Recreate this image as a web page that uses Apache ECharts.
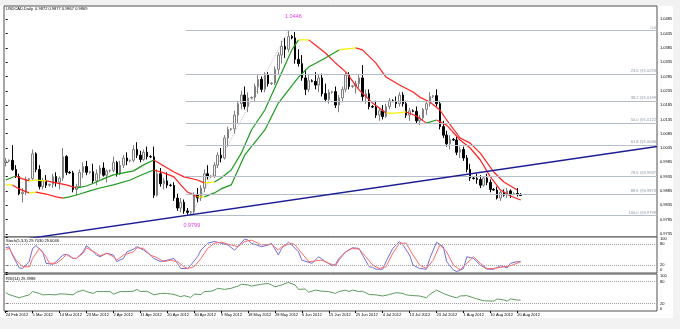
<!DOCTYPE html>
<html><head><meta charset="utf-8">
<script src="https://cdn.jsdelivr.net/npm/echarts@6/dist/echarts.min.js"></script>
<style>html,body{margin:0;padding:0;background:#f2f2f2;}#c{width:680px;height:329px;}</style>
</head><body><div id="c"></div>
<script>
// ---------- DATA ----------
const titleText = 'USDCAD,Daily  0.9872 0.9877 0.9867 0.9869';
const stochTitle = 'Stoch(5,3,3) 29.7030 29.6046';
const rsiTitle = 'RSI(14) 29.3988';
const lastPrice = 0.9869;
const priceTicks = [0.9735,0.9785,0.9835,0.9885,0.9935,0.9985,1.0035,1.0085,1.0135,1.0185,1.0235,1.0285,1.0335,1.0385,1.0435,1.0485];
const oscTicks = [0,20,80,100];
const months = ['Jan','Feb','Mar','Apr','May','Jun','Jul','Aug','Sep','Oct','Nov','Dec'];
// daily bars (Sunday bars included, Saturdays absent), first bar 24 Feb 2012
const categories = [];
(function(){ const d = new Date(Date.UTC(2012,1,24)); while (categories.length < 194) { if (d.getUTCDay() !== 6) categories.push(d.getUTCDate()+' '+months[d.getUTCMonth()]+' '+d.getUTCFullYear()); d.setUTCDate(d.getUTCDate()+1);} })();

// [open, high, low, close]
const ohlc = [
[0.9985,1.0000,0.9970,0.9990],[0.9990,0.9995,0.9985,0.9992],[0.9992,1.0045,0.9955,0.9960],[0.9960,0.9975,0.9930,0.9935],[0.9935,0.9945,0.9870,0.9875],[0.9875,0.9895,0.9845,0.9880],
[0.9880,0.9935,0.9870,0.9925],[0.9925,0.9930,0.9920,0.9928],[0.9928,1.0030,0.9920,1.0015],[1.0015,1.0020,0.9950,0.9960],[0.9960,0.9975,0.9890,0.9900],[0.9900,0.9930,0.9890,0.9920],
[0.9920,0.9940,0.9895,0.9905],[0.9905,0.9910,0.9900,0.9908],[0.9908,0.9945,0.9895,0.9935],[0.9935,0.9950,0.9900,0.9915],[0.9915,0.9935,0.9890,0.9930],[0.9930,1.0035,0.9920,1.0005],
[1.0005,1.0010,0.9940,0.9950],[0.9950,0.9955,0.9945,0.9948],[0.9948,0.9955,0.9880,0.9890],[0.9890,0.9910,0.9870,0.9900],[0.9900,0.9960,0.9895,0.9950],[0.9950,0.9985,0.9930,0.9970],
[0.9970,0.9990,0.9940,0.9950],[0.9950,0.9955,0.9945,0.9952],[0.9952,0.9980,0.9910,0.9920],[0.9920,0.9960,0.9905,0.9945],[0.9945,0.9975,0.9925,0.9965],[0.9965,0.9985,0.9935,0.9940],
[0.9940,0.9960,0.9915,0.9955],[0.9955,0.9960,0.9950,0.9957],[0.9957,1.0005,0.9950,0.9985],[0.9985,0.9990,0.9935,0.9945],[0.9945,0.9990,0.9940,0.9975],[0.9975,1.0010,0.9965,1.0000],
[1.0000,1.0020,0.9975,0.9990],[0.9990,0.9995,0.9985,0.9992],[0.9992,1.0045,0.9985,1.0030],[1.0030,1.0055,1.0000,1.0010],[1.0010,1.0025,0.9985,0.9995],[0.9995,1.0030,0.9990,1.0020],
[1.0020,1.0040,0.9995,1.0005],[1.0005,1.0010,1.0000,1.0004],[1.0004,1.0040,0.9860,0.9870],[0.9870,0.9960,0.9865,0.9945],[0.9945,0.9965,0.9900,0.9910],[0.9910,0.9930,0.9890,0.9920],
[0.9920,0.9950,0.9895,0.9905],[0.9905,0.9910,0.9900,0.9904],[0.9904,0.9915,0.9850,0.9860],[0.9860,0.9875,0.9815,0.9825],[0.9825,0.9860,0.9810,0.9845],[0.9845,0.9855,0.9805,0.9815],
[0.9815,0.9825,0.9802,0.9810],[0.9810,0.9815,0.9799,0.9812],[0.9812,0.9880,0.9805,0.9870],[0.9870,0.9895,0.9845,0.9860],[0.9860,0.9905,0.9850,0.9895],[0.9895,0.9960,0.9880,0.9945],
[0.9945,0.9975,0.9925,0.9935],[0.9935,0.9940,0.9930,0.9937],[0.9937,0.9985,0.9930,0.9975],[0.9975,1.0020,0.9965,1.0010],[1.0010,1.0035,0.9985,1.0000],[1.0000,1.0080,0.9995,1.0070],
[1.0070,1.0110,1.0040,1.0100],[1.0100,1.0105,1.0095,1.0102],[1.0102,1.0165,1.0085,1.0150],[1.0150,1.0200,1.0120,1.0190],[1.0190,1.0235,1.0170,1.0220],[1.0220,1.0250,1.0170,1.0180],
[1.0180,1.0230,1.0160,1.0210],[1.0210,1.0215,1.0205,1.0212],[1.0212,1.0260,1.0200,1.0250],[1.0250,1.0290,1.0225,1.0275],[1.0275,1.0285,1.0230,1.0240],[1.0240,1.0300,1.0230,1.0290],
[1.0290,1.0300,1.0250,1.0260],[1.0260,1.0265,1.0255,1.0262],[1.0262,1.0320,1.0255,1.0310],[1.0310,1.0370,1.0290,1.0360],[1.0360,1.0410,1.0330,1.0390],[1.0390,1.0420,1.0350,1.0380],
[1.0380,1.0446,1.0370,1.0425],[1.0425,1.0430,1.0415,1.0420],[1.0420,1.0440,1.0330,1.0345],[1.0345,1.0380,1.0320,1.0330],[1.0330,1.0360,1.0270,1.0280],[1.0280,1.0310,1.0220,1.0240],
[1.0240,1.0290,1.0230,1.0270],[1.0270,1.0275,1.0265,1.0268],[1.0268,1.0300,1.0240,1.0255],[1.0255,1.0290,1.0230,1.0280],[1.0280,1.0295,1.0215,1.0225],[1.0225,1.0260,1.0195,1.0205],
[1.0205,1.0240,1.0190,1.0230],[1.0230,1.0235,1.0225,1.0232],[1.0232,1.0250,1.0175,1.0185],[1.0185,1.0220,1.0160,1.0210],[1.0210,1.0250,1.0195,1.0240],[1.0240,1.0300,1.0230,1.0290],
[1.0290,1.0300,1.0240,1.0250],[1.0250,1.0255,1.0245,1.0252],[1.0252,1.0270,1.0225,1.0260],[1.0260,1.0290,1.0245,1.0280],[1.0280,1.0325,1.0200,1.0215],[1.0215,1.0240,1.0190,1.0225],
[1.0225,1.0240,1.0170,1.0180],[1.0180,1.0185,1.0175,1.0178],[1.0178,1.0200,1.0140,1.0150],[1.0150,1.0175,1.0130,1.0165],[1.0165,1.0185,1.0135,1.0145],[1.0145,1.0190,1.0140,1.0180],
[1.0180,1.0210,1.0170,1.0200],[1.0200,1.0205,1.0195,1.0198],[1.0198,1.0215,1.0175,1.0190],[1.0190,1.0230,1.0180,1.0220],[1.0220,1.0230,1.0180,1.0190],[1.0190,1.0200,1.0140,1.0150],
[1.0150,1.0175,1.0130,1.0165],[1.0165,1.0170,1.0160,1.0163],[1.0163,1.0180,1.0120,1.0130],[1.0130,1.0150,1.0115,1.0140],[1.0140,1.0175,1.0130,1.0170],[1.0170,1.0200,1.0150,1.0190],
[1.0190,1.0230,1.0180,1.0215],[1.0215,1.0220,1.0210,1.0218],[1.0218,1.0240,1.0180,1.0190],[1.0190,1.0200,1.0100,1.0110],[1.0110,1.0130,1.0070,1.0080],[1.0080,1.0095,1.0040,1.0050],
[1.0050,1.0080,1.0030,1.0065],[1.0065,1.0070,1.0060,1.0063],[1.0063,1.0075,1.0010,1.0020],[1.0020,1.0040,1.0000,1.0030],[1.0030,1.0040,0.9990,1.0000],[1.0000,1.0010,0.9950,0.9960],
[0.9960,0.9980,0.9920,0.9930],[0.9930,0.9935,0.9925,0.9928],[0.9928,0.9945,0.9910,0.9925],[0.9925,0.9940,0.9895,0.9905],[0.9905,0.9935,0.9900,0.9930],[0.9930,0.9945,0.9905,0.9915],
[0.9915,0.9925,0.9880,0.9890],[0.9890,0.9895,0.9885,0.9888],[0.9888,0.9900,0.9855,0.9860],[0.9860,0.9885,0.9850,0.9880],[0.9880,0.9890,0.9865,0.9870],[0.9870,0.9895,0.9860,0.9885],
[0.9885,0.9890,0.9860,0.9875],[0.9875,0.9880,0.9870,0.9876],[0.9876,0.9895,0.9865,0.9872],[0.9872,0.9877,0.9867,0.9869]
];

// moving averages: [bar index, price]
const maFast = [[0,0.9923],[3,0.9937],[5,0.9927],[7,0.9920],[9,0.9923],[12,0.9920],[15,0.9913],[18,0.9906],[21,0.9895],[24,0.9902],[27,0.9916],[29,0.9927],[32,0.9941],[35,0.9948],[38,0.9955],[41,0.9976],[44,0.9993],[46,0.9979],[48,0.9965],[50,0.9951],[53,0.9934],[57,0.9923],[59,0.9913],[62,0.9916],[64,0.9930],[67,0.9958],[70,1.0017],[73,1.0098],[77,1.0168],[81,1.0273],[85,1.0378],[87,1.0413],[90,1.0413],[92,1.0395],[95,1.0367],[98,1.0332],[101,1.0301],[105,1.0238],[109,1.0192],[113,1.0157],[116,1.0157],[119,1.0161],[122,1.0147],[125,1.0122],[128,1.0133],[131,1.0115],[135,1.0063],[138,1.0035],[141,0.9993],[144,0.9934],[147,0.9888],[150,0.9867],[153,0.9853]];
const maSlow = [[0,0.9906],[2,0.9906],[4,0.9892],[7,0.9878],[9,0.9881],[12,0.9874],[15,0.9864],[17,0.9860],[19,0.9864],[22,0.9874],[25,0.9885],[28,0.9895],[32,0.9906],[37,0.9923],[41,0.9944],[44,0.9958],[47,0.9948],[50,0.9934],[52,0.9906],[54,0.9881],[57,0.9864],[59,0.9864],[62,0.9878],[64,0.9892],[67,0.9906],[71,1.0010],[77,1.0098],[81,1.0192],[87,1.0283],[90,1.0318],[95,1.0350],[99,1.0378],[104,1.0385],[106,1.0378],[110,1.0332],[113,1.0283],[117,1.0255],[121,1.0231],[123,1.0213],[126,1.0196],[129,1.0168],[131,1.0133],[135,1.0070],[138,1.0052],[141,1.0017],[145,0.9951],[148,0.9916],[152,0.9888]];

const stochK = [[0,70],[1,73],[2,49],[4,12],[5,10],[7,30],[8,68],[9,76],[11,58],[12,25],[14,22],[15,30],[17,49],[18,51],[19,47],[20,39],[21,39],[23,58],[24,76],[25,68],[27,49],[28,44],[30,54],[32,49],[33,30],[35,39],[36,58],[38,66],[39,73],[41,63],[43,49],[44,39],[46,30],[48,34],[50,39],[51,25],[52,10],[54,10],[55,20],[57,44],[58,63],[60,83],[62,88],[64,83],[66,78],[68,63],[69,73],[71,95],[72,92],[73,83],[76,73],[78,78],[79,83],[81,49],[82,68],[84,86],[85,78],[87,58],[88,34],[91,25],[93,44],[95,30],[97,18],[98,22],[99,39],[101,58],[103,70],[105,68],[106,49],[108,15],[109,13],[110,8],[112,8],[113,30],[115,68],[117,88],[118,78],[120,49],[121,20],[123,10],[125,8],[126,39],[128,86],[130,73],[131,30],[133,6],[134,1],[136,10],[137,44],[139,39],[141,20],[143,8],[145,8],[147,18],[149,12],[150,25],[152,30],[153,29.7]];
const stochD = [[0,64],[1,69],[3,35],[5,15],[7,15],[8,39],[10,68],[12,44],[13,25],[15,25],[17,39],[18,51],[20,39],[21,39],[23,54],[24,70],[27,54],[28,47],[30,54],[32,44],[33,34],[35,49],[38,58],[39,70],[41,68],[43,49],[45,41],[47,30],[49,34],[51,30],[53,15],[54,10],[56,15],[58,39],[60,68],[62,83],[64,86],[67,78],[69,73],[71,88],[73,92],[75,83],[76,78],[79,80],[81,63],[82,73],[85,83],[86,78],[88,54],[90,30],[92,32],[94,34],[96,25],[98,18],[99,34],[101,58],[103,68],[105,66],[107,44],[109,20],[111,10],[113,15],[115,54],[117,83],[119,83],[121,49],[123,20],[125,10],[127,34],[129,78],[131,58],[133,20],[135,6],[137,25],[139,44],[141,25],[143,10],[145,10],[148,15],[150,18],[153,29.6]];
const rsi = [[0,50],[1,45],[4,36],[5,39],[7,44],[8,53],[10,48],[11,44],[13,45],[15,44],[16,47],[18,46],[20,44],[21,51],[23,57],[24,53],[26,48],[27,53],[29,53],[31,53],[32,46],[34,53],[36,53],[38,54],[39,59],[40,53],[42,54],[44,44],[46,48],[48,48],[50,45],[52,39],[53,42],[55,37],[56,46],[58,45],[59,53],[61,54],[62,57],[63,62],[65,59],[67,62],[69,68],[70,73],[72,71],[73,68],[76,73],[78,75],[79,71],[80,66],[82,71],[84,78],[86,71],[87,59],[89,60],[90,51],[92,57],[94,54],[96,53],[98,48],[99,53],[101,57],[102,53],[103,57],[105,53],[106,54],[108,45],[110,44],[112,41],[114,45],[116,50],[118,48],[119,44],[121,42],[123,41],[125,36],[126,45],[128,57],[130,48],[132,41],[134,36],[135,41],[137,42],[139,36],[140,33],[142,28],[145,27],[146,33],[148,30],[149,27],[150,33],[152,30],[153,29.4]];

const fibLevels = ['0.0','23.6','38.2','50.0','61.8','78.6','88.6','100.0'];
const fibPrices = [1.0446,1.0293,1.0199,1.0122,1.0046,0.9937,0.9873,0.9799];
const fibStart = 53.5;
const trendLine = [[0,0.97067],[193.5,1.00403]];
const swingLow = [55,0.9799];
const swingHigh = [84,1.0446];

// ---------- CHART ----------
const FF = 'Liberation Sans, Arial, sans-serif';
const XMAX = 193.5, XMIN = -0.5;
const chart = echarts.init(document.getElementById('c'), null, {renderer:'canvas'});

function slopeColor(a,b){ const s=(b[1]-a[1])/(b[0]-a[0]); return s>0.00018?'#1e9a1e':(s<-0.00018?'#ff2020':'#f2f200'); }
function maSeries(pts){
  const runs=[]; let cur=null;
  for(let k=1;k<pts.length;k++){ const c=slopeColor(pts[k-1],pts[k]); if(!cur||cur.color!==c){cur={color:c,data:[pts[k-1]]};runs.push(cur);} cur.data.push(pts[k]); }
  return runs.map(r=>({type:'line',xAxisIndex:1,yAxisIndex:0,data:r.data,symbol:'none',silent:true,animation:false,z:4,lineStyle:{color:r.color,width:1.2}}));
}
const showIdx = (i)=> i%8===0 && i<=152;

const series = [
  {type:'candlestick',xAxisIndex:0,yAxisIndex:0,barWidth:2,animation:false,silent:true,z:3,
   data: ohlc.map(d=>[d[0],d[3],d[2],d[1]]),
   itemStyle:{color:'#f4f4f4',color0:'#000000',borderColor:'#808080',borderColor0:'#000000',borderWidth:1},
   markLine:{silent:true,symbol:['none','none'],animation:false,lineStyle:{opacity:0},
     data:[{yAxis:lastPrice,label:{show:true,position:'end',distance:2,formatter:lastPrice.toFixed(4),color:'#fff',backgroundColor:'#000',padding:[1,1,0,1],fontSize:4,fontFamily:FF}}]}
  },
  {type:'line',xAxisIndex:1,yAxisIndex:0,data:trendLine,symbol:'none',silent:true,animation:false,z:5,lineStyle:{color:'#1c1c96',width:1.4},
   markLine:{silent:true,symbol:['none','none'],animation:false,lineStyle:{color:'#b5bec8',width:1,type:'solid'},
     data: fibPrices.map((p,k)=>[{coord:[fibStart,p],label:{show:true,position:'insideEndTop',distance:1,formatter:fibLevels[k]+(k===0?'':' @'+p.toFixed(4)),color:'#8494a6',fontSize:4,fontFamily:FF}},{coord:[XMAX,p]}])}
  },
  {type:'line',xAxisIndex:1,yAxisIndex:0,silent:true,animation:false,z:2,symbol:'circle',symbolSize:1,
   itemStyle:{color:'transparent'},lineStyle:{color:'#cbbccb',width:1,type:'dotted'},
   data:[{value:swingLow,label:{show:true,position:'bottom',distance:6,offset:[1,0],formatter:swingLow[1].toFixed(4),color:'#e040e0',fontSize:5.5,fontFamily:FF}},
         {value:swingHigh,label:{show:true,position:'top',distance:10,offset:[5,0],formatter:swingHigh[1].toFixed(4),color:'#e040e0',fontSize:5.5,fontFamily:FF}}]
  },
  ...maSeries(maFast), ...maSeries(maSlow),
  {type:'line',xAxisIndex:2,yAxisIndex:1,data:stochK,symbol:'none',silent:true,animation:false,lineStyle:{color:'#6f6fd6',width:1},
   markLine:{silent:true,symbol:['none','none'],animation:false,label:{show:false},lineStyle:{color:'#a0a0a0',type:'dotted',width:1},data:[{yAxis:20},{yAxis:80}]}},
  {type:'line',xAxisIndex:2,yAxisIndex:1,data:stochD,symbol:'none',silent:true,animation:false,lineStyle:{color:'#ff6a6a',width:1}},
  {type:'line',xAxisIndex:3,yAxisIndex:2,data:rsi,symbol:'none',silent:true,animation:false,lineStyle:{color:'#5f9a5f',width:1},
   markLine:{silent:true,symbol:['none','none'],animation:false,label:{show:false},lineStyle:{color:'#a0a0a0',type:'dotted',width:1},data:[{yAxis:20},{yAxis:80}]}}
];

const gridBase = {left:4,width:653,show:true,backgroundColor:'#fff',borderColor:'#505050',borderWidth:1};
const hiddenVal = (g)=>({type:'value',gridIndex:g,min:XMIN,max:XMAX,show:false});
const oscAxis = (g,min,max)=>({type:'value',gridIndex:g,position:'right',min:min,max:max,splitLine:{show:false},axisLine:{show:false},
   axisTick:{show:true,customValues:oscTicks,length:2,lineStyle:{color:'#000'}},
   axisLabel:{customValues:oscTicks,fontSize:4,color:'#000',margin:3,fontFamily:FF,
     formatter:(v)=> v===100?'{t|100}':(v===0?'{b|0}':String(v)), rich:{t:{fontSize:4,padding:[4,0,0,0]},b:{fontSize:4,padding:[0,0,4,0]}}}});

const option = {
  backgroundColor:'transparent', animation:false,
  graphic:[{type:'rect',shape:{x:0,y:6,width:673,height:312},style:{fill:'#ffffff'},z:-10,silent:true}],
  title:[
    {text:titleText,left:6,top:7,padding:0,textStyle:{fontSize:4,fontWeight:'normal',color:'#000',fontFamily:FF}},
    {text:stochTitle,left:6,top:239,padding:0,textStyle:{fontSize:4,fontWeight:'normal',color:'#000',fontFamily:FF}},
    {text:rsiTitle,left:6,top:276.5,padding:0,textStyle:{fontSize:4,fontWeight:'normal',color:'#000',fontFamily:FF}}
  ],
  grid:[ Object.assign({top:6,height:231},gridBase), Object.assign({top:237,height:36},gridBase), Object.assign({top:274,height:37},gridBase) ],
  xAxis:[
    {type:'category',gridIndex:0,data:categories,boundaryGap:true,show:false},
    hiddenVal(0), hiddenVal(1), hiddenVal(2),
    {type:'category',gridIndex:2,data:categories,boundaryGap:true,position:'bottom',axisLine:{show:false},
     axisTick:{show:true,interval:showIdx,length:2,alignWithLabel:true,lineStyle:{color:'#000'}},
     axisLabel:{interval:showIdx,align:'left',fontSize:4,color:'#000',margin:2,fontFamily:FF}}
  ],
  yAxis:[
    {type:'value',gridIndex:0,position:'right',min:0.97238,max:1.05315,splitLine:{show:false},axisLine:{show:false},
     axisTick:{show:true,customValues:priceTicks,length:2,lineStyle:{color:'#000'}},
     axisLabel:{customValues:priceTicks,formatter:(v)=>v.toFixed(4),fontSize:4,color:'#000',margin:3,fontFamily:FF}},
    oscAxis(1,-3,101), oscAxis(2,0,101)
  ],
  series: series
};
chart.setOption(option);
</script></body></html>
